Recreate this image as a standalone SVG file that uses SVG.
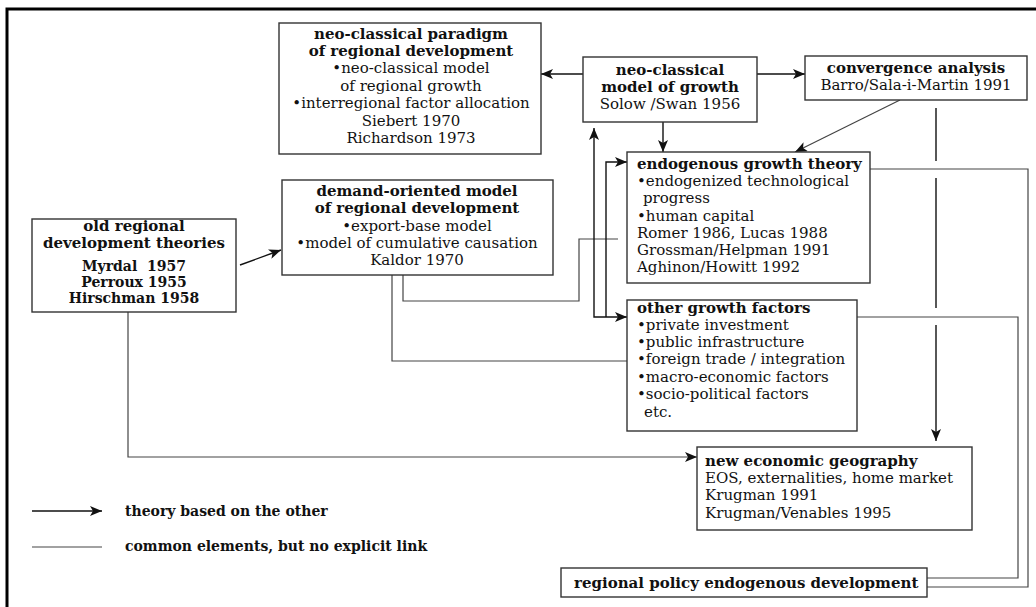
<svg xmlns="http://www.w3.org/2000/svg" width="1036" height="607" viewBox="0 0 1036 607">
<style>
text{font-family:"DejaVu Serif","Liberation Serif",serif;font-size:15px;fill:#111}
.t{font-weight:bold}
.c{text-anchor:middle}
.s{font-size:14px}
.box{fill:#fff;stroke:#333;stroke-width:1.4}
.arr{fill:none;stroke:#111;stroke-width:1.4}
.lnk{fill:none;stroke:#444;stroke-width:1.2}
</style>
<defs>
<marker id="ah" viewBox="0 0 12 10" refX="12" refY="5" markerWidth="12" markerHeight="10" markerUnits="userSpaceOnUse" orient="auto-start-reverse">
<path d="M0,0 L12,5 L0,10 L3,5 Z" fill="#111"/>
</marker>
</defs>
<rect width="1036" height="607" fill="#fff"/>
<path d="M7,607 V9 H1036" fill="none" stroke="#000" stroke-width="3"/>

<g id="connectors">
<path class="arr" d="M583,74 H541" marker-end="url(#ah)"/>
<path class="arr" d="M757,74 H805" marker-end="url(#ah)"/>
<path class="arr" d="M663,122 V152" marker-end="url(#ah)"/>
<path class="lnk" d="M900,100 L795,152" marker-end="url(#ah)"/>
<path class="arr" d="M936,108 V161 M936,178 V308 M936,325 V441" marker-end="url(#ah)"/>
<path class="lnk" d="M870,169 H1028 V587 H927"/>
<path class="lnk" d="M857,317 H1018 V578 H927"/>
<path class="arr" d="M240,265 L281,250" marker-end="url(#ah)"/>
<path class="lnk" d="M128,312 V457 H697" marker-end="url(#ah)"/>
<path class="lnk" d="M392,275 V361 H628"/>
<path class="lnk" d="M403,275 V301 H579 V239 H618"/>
<path class="arr" d="M594,128 V317 H627" marker-start="url(#ah)" marker-end="url(#ah)"/>
<path class="arr" d="M606,317 V162 H627" marker-end="url(#ah)"/>
</g>

<g id="paradigm">
<rect class="box" x="279" y="23" width="262" height="131"/>
<text class="t c" x="411" y="39">neo-classical paradigm</text>
<text class="t c" x="411" y="56">of regional development</text>
<text class="c" x="411" y="73">•neo-classical model</text>
<text class="c" x="411" y="91">of regional growth</text>
<text class="c" x="411" y="108">•interregional factor allocation</text>
<text class="c" x="411" y="126">Siebert 1970</text>
<text class="c" x="411" y="143">Richardson 1973</text>
</g>

<g id="model">
<rect class="box" x="583" y="57" width="174" height="65"/>
<text class="t c" x="670" y="75">neo-classical</text>
<text class="t c" x="670" y="92">model of growth</text>
<text class="c" x="670" y="109">Solow /Swan 1956</text>
</g>

<g id="convergence">
<rect class="box" x="805" y="56" width="222" height="44"/>
<text class="t c" x="916" y="73">convergence analysis</text>
<text class="c" x="916" y="90">Barro/Sala-i-Martin 1991</text>
</g>

<g id="demand">
<rect class="box" x="282" y="180" width="271" height="95"/>
<text class="t c" x="417" y="196">demand-oriented model</text>
<text class="t c" x="417" y="213">of regional development</text>
<text class="c" x="417" y="231">•export-base model</text>
<text class="c" x="417" y="248">•model of cumulative causation</text>
<text class="c" x="417" y="265">Kaldor 1970</text>
</g>

<g id="old">
<rect class="box" x="32" y="219" width="204" height="93"/>
<text class="t c" x="134" y="231">old regional</text>
<text class="t c" x="134" y="248">development theories</text>
<text class="t c s" x="134" y="271">Myrdal&#160; 1957</text>
<text class="t c s" x="134" y="287">Perroux 1955</text>
<text class="t c s" x="134" y="303">Hirschman 1958</text>
</g>

<g id="endogenous">
<rect class="box" x="627" y="152" width="243" height="131"/>
<text class="t" x="637" y="169">endogenous growth theory</text>
<text x="637" y="186">•endogenized technological</text>
<text x="643" y="203">progress</text>
<text x="637" y="221">•human capital</text>
<text x="637" y="238">Romer 1986, Lucas 1988</text>
<text x="637" y="255">Grossman/Helpman 1991</text>
<text x="637" y="272">Aghinon/Howitt 1992</text>
</g>

<g id="other">
<rect class="box" x="627" y="300" width="230" height="131"/>
<text class="t" x="637" y="313">other growth factors</text>
<text x="637" y="330">•private investment</text>
<text x="637" y="347">•public infrastructure</text>
<text x="637" y="364">•foreign trade / integration</text>
<text x="637" y="382">•macro-economic factors</text>
<text x="637" y="399">•socio-political factors</text>
<text x="644" y="417">etc.</text>
</g>

<g id="neg">
<rect class="box" x="697" y="447" width="275" height="83"/>
<text class="t" x="705" y="466">new economic geography</text>
<text x="705" y="483">EOS, externalities, home market</text>
<text x="705" y="500">Krugman 1991</text>
<text x="705" y="518">Krugman/Venables 1995</text>
</g>

<g id="policy">
<rect class="box" x="561" y="568" width="366" height="29"/>
<text class="t" x="574" y="588">regional policy endogenous development</text>
</g>

<g id="legend">
<path class="arr" d="M32,511 H102" marker-end="url(#ah)"/>
<path class="lnk" d="M32,547 H102"/>
<text class="t s" x="125" y="516">theory based on the other</text>
<text class="t s" x="125" y="551">common elements, but no explicit link</text>
</g>
</svg>
